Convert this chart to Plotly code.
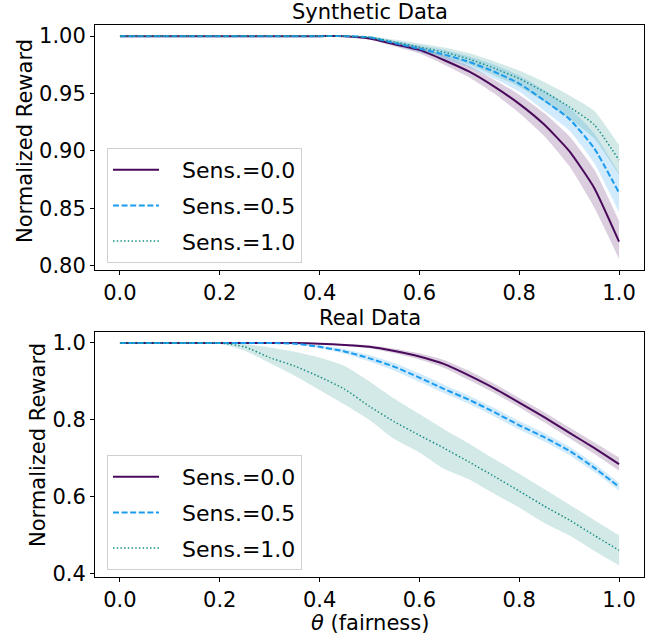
import plotly.graph_objects as go

# ---------------- data ----------------
theta = [0.0, 0.05, 0.1, 0.15, 0.2, 0.25, 0.3, 0.35, 0.4, 0.45, 0.5,
         0.55, 0.6, 0.65, 0.7, 0.75, 0.8, 0.85, 0.9, 0.95, 1.0]

labels = ["Sens.=0.0", "Sens.=0.5", "Sens.=1.0"]

# Synthetic data
syn_s00 = [1, 1, 1, 1, 1, 1, 1, 1, 1, 1, 0.998, 0.993, 0.988, 0.979, 0.969, 0.956, 0.941, 0.923, 0.900, 0.868, 0.821]
syn_s00_lo = [1, 1, 1, 1, 1, 1, 1, 1, 1, 1, 0.997, 0.991, 0.985, 0.975, 0.964, 0.950, 0.933, 0.913, 0.887, 0.851, 0.806]
syn_s00_hi = [1, 1, 1, 1, 1, 1, 1, 1, 1, 1, 0.999, 0.995, 0.991, 0.983, 0.974, 0.962, 0.949, 0.933, 0.913, 0.884, 0.839]

syn_s05 = [1, 1, 1, 1, 1, 1, 1, 1, 1, 1, 0.999, 0.994, 0.989, 0.984, 0.9775, 0.969, 0.9587, 0.944, 0.928, 0.9025, 0.8635]
syn_s05_lo = [1, 1, 1, 1, 1, 1, 1, 1, 1, 1, 0.998, 0.992, 0.986, 0.980, 0.9725, 0.963, 0.9517, 0.935, 0.918, 0.8895, 0.8465]
syn_s05_hi = [1, 1, 1, 1, 1, 1, 1, 1, 1, 1, 1.0, 0.996, 0.992, 0.988, 0.9825, 0.975, 0.9657, 0.953, 0.938, 0.9155, 0.8805]

syn_s10 = [1, 1, 1, 1, 1, 1, 1, 1, 1, 1, 0.999, 0.995, 0.9905, 0.986, 0.980, 0.972, 0.963, 0.9515, 0.9385, 0.923, 0.892]
syn_s10_lo = [1, 1, 1, 1, 1, 1, 1, 1, 1, 1, 0.998, 0.993, 0.9875, 0.982, 0.975, 0.966, 0.956, 0.943, 0.9285, 0.911, 0.879]
syn_s10_hi = [1, 1, 1, 1, 1, 1, 1, 1, 1, 1, 1.0, 0.997, 0.9935, 0.990, 0.985, 0.978, 0.970, 0.960, 0.9485, 0.935, 0.905]

# Real data
real_s00 = [1, 1, 1, 1, 1, 1, 1, 1, 0.998, 0.995, 0.990, 0.979, 0.965, 0.945, 0.915, 0.882, 0.845, 0.807, 0.767, 0.727, 0.685]
real_s00_lo = [1, 1, 1, 1, 1, 1, 1, 1, 0.997, 0.993, 0.986, 0.973, 0.957, 0.935, 0.903, 0.870, 0.833, 0.794, 0.753, 0.712, 0.668]
real_s00_hi = [1, 1, 1, 1, 1, 1, 1, 1, 0.999, 0.997, 0.994, 0.985, 0.973, 0.955, 0.927, 0.894, 0.857, 0.820, 0.781, 0.742, 0.702]

real_s05 = [1, 1, 1, 1, 1, 1, 1, 0.998, 0.990, 0.978, 0.960, 0.938, 0.910, 0.880, 0.852, 0.820, 0.786, 0.755, 0.720, 0.676, 0.626]
real_s05_lo = [1, 1, 1, 1, 1, 1, 1, 0.997, 0.986, 0.972, 0.952, 0.928, 0.899, 0.869, 0.841, 0.809, 0.775, 0.744, 0.709, 0.665, 0.616]
real_s05_hi = [1, 1, 1, 1, 1, 1, 1, 0.999, 0.994, 0.984, 0.968, 0.948, 0.921, 0.891, 0.863, 0.831, 0.797, 0.766, 0.731, 0.687, 0.636]

real_s10 = [1, 1, 1, 1, 1.0, 0.990, 0.962, 0.940, 0.912, 0.880, 0.835, 0.795, 0.760, 0.726, 0.690, 0.653, 0.615, 0.576, 0.540, 0.500, 0.461]
real_s10_lo = [1, 1, 1, 1, 0.998, 0.980, 0.948, 0.915, 0.878, 0.840, 0.800, 0.750, 0.715, 0.672, 0.645, 0.608, 0.572, 0.532, 0.500, 0.460, 0.422]
real_s10_hi = [1, 1, 1, 1, 1.0, 0.997, 0.988, 0.977, 0.962, 0.940, 0.900, 0.855, 0.815, 0.775, 0.738, 0.698, 0.660, 0.620, 0.580, 0.540, 0.500]

x_ticks = [0.0, 0.2, 0.4, 0.6, 0.8, 1.0]
syn_y_ticks = [0.80, 0.85, 0.90, 0.95, 1.00]
real_y_ticks = [0.4, 0.6, 0.8, 1.0]

# ---------------- style ----------------
FONT = "DejaVu Sans"
FS = 21
LFS = 22
line_colors = ["#4a0a5c", "#1a9bee", "#1c8f86"]
fill_colors = ["rgba(74,10,92,0.2)", "rgba(26,155,238,0.2)", "rgba(28,143,134,0.2)"]
dashes = ["solid", "6px,2.6px", "1.5px,2.2px"]
widths = [2, 2, 1.5]
LEG_PAD = "\u00a0\u2002"  # gap between legend symbol and text, as in the reference

fig = go.Figure()

panels = [
    ("x", "y", "legend", [(syn_s00, syn_s00_lo, syn_s00_hi), (syn_s05, syn_s05_lo, syn_s05_hi), (syn_s10, syn_s10_lo, syn_s10_hi)]),
    ("x2", "y2", "legend2", [(real_s00, real_s00_lo, real_s00_hi), (real_s05, real_s05_lo, real_s05_hi), (real_s10, real_s10_lo, real_s10_hi)]),
]

for xa, ya, leg, series in panels:
    for i, (m, lo, hi) in enumerate(series):
        fig.add_trace(go.Scatter(x=theta, y=lo, xaxis=xa, yaxis=ya, mode="lines",
                                 line=dict(width=0, shape="spline", smoothing=0.5),
                                 showlegend=False, hoverinfo="skip"))
        fig.add_trace(go.Scatter(x=theta, y=hi, xaxis=xa, yaxis=ya, mode="lines",
                                 line=dict(width=0, shape="spline", smoothing=0.5),
                                 fill="tonexty", fillcolor=fill_colors[i],
                                 showlegend=False, hoverinfo="skip"))
    for i, (m, lo, hi) in enumerate(series):
        fig.add_trace(go.Scatter(x=theta, y=m, xaxis=xa, yaxis=ya, mode="lines",
                                 name=LEG_PAD + labels[i], legend=leg, legendgroup=f"{leg}{i}",
                                 line=dict(color=line_colors[i], width=widths[i], dash=dashes[i],
                                           shape="spline", smoothing=0.5)))

axis_common = dict(showline=True, linecolor="black", linewidth=1, mirror=True,
                   ticks="outside", ticklen=4, tickcolor="black", showgrid=False, zeroline=False,
                   tickfont=dict(family=FONT, size=FS, color="black"))

# plot area (px): x 95..644, y 25..577
top_dom = [(577 - 270) / 552, 1.0]
bot_dom = [0.0, (577 - 332) / 552]

def py(y):
    return (577 - y) / 552

def px(x):
    return (x - 95) / 549

legend_common = dict(xanchor="left", yanchor="top", bgcolor="rgba(255,255,255,0.8)",
                     bordercolor="#d0d0d0", borderwidth=1, font=dict(family=FONT, size=LFS),
                     itemwidth=46, tracegroupgap=4)

fig.update_layout(
    width=654, height=637,
    margin=dict(l=95, r=10, t=25, b=60),
    plot_bgcolor="white", paper_bgcolor="white",
    font=dict(family=FONT, size=FS, color="black"),
    xaxis=dict(axis_common, domain=[0, 1], range=[-0.05, 1.05], tickvals=x_ticks,
               tickformat=".1f", anchor="y"),
    yaxis=dict(axis_common, domain=top_dom, range=[0.7963, 1.0097], tickvals=syn_y_ticks,
               tickformat=".2f", anchor="x"),
    xaxis2=dict(axis_common, domain=[0, 1], range=[-0.05, 1.05], tickvals=x_ticks,
                tickformat=".1f", anchor="y2"),
    yaxis2=dict(axis_common, domain=bot_dom, range=[0.3915, 1.0285], tickvals=real_y_ticks,
                tickformat=".1f", anchor="x2"),
    legend=dict(legend_common, x=px(107), y=py(148)),
    legend2=dict(legend_common, x=px(107), y=py(455)),
    annotations=[
        dict(text="Synthetic Data", x=0.5, y=py(12), xref="paper", yref="paper",
             showarrow=False, font=dict(family=FONT, size=FS), xanchor="center", yanchor="middle"),
        dict(text="Real Data", x=0.5, y=py(318), xref="paper", yref="paper",
             showarrow=False, font=dict(family=FONT, size=FS), xanchor="center", yanchor="middle"),
        dict(text="Normalized Reward", x=px(25), y=py(141), xref="paper", yref="paper",
             showarrow=False, textangle=-90, font=dict(family=FONT, size=FS),
             xanchor="center", yanchor="middle"),
        dict(text="Normalized Reward", x=px(38), y=py(445), xref="paper", yref="paper",
             showarrow=False, textangle=-90, font=dict(family=FONT, size=FS),
             xanchor="center", yanchor="middle"),
        dict(text="<i>θ</i> (fairness)", x=0.5, y=py(623), xref="paper", yref="paper",
             showarrow=False, font=dict(family=FONT, size=FS), xanchor="center", yanchor="middle"),
    ],
)

fig.write_html("out.html", config={"displayModeBar": False},
               post_script="document.body.style.margin='0';")
